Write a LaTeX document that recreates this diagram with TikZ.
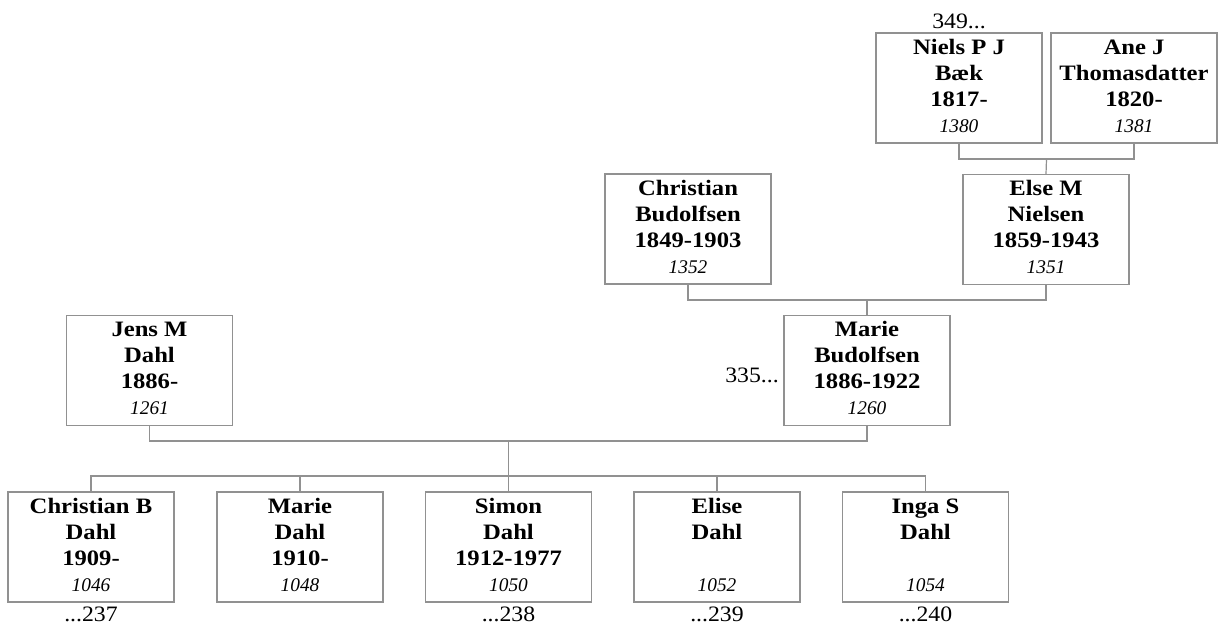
\documentclass[tikz,border=0pt]{standalone}
\usepackage{fontspec}
\setmainfont{Liberation Serif}
\newfontfamily\namefont[FakeStretch=1.12]{Liberation Serif}
\newfontfamily\labfont[FakeStretch=1.08]{Liberation Serif}
\definecolor{linegray}{RGB}{145,145,145}
\newcommand\pcontent[4]{\rule{0pt}{11.25pt}#1\\#2\\#3\\{\normalfont\itshape\fontsize{14.5}{19.5}\selectfont #4}\rule[-3.75pt]{0pt}{3.75pt}}
\begin{document}
\begin{tikzpicture}[x=0.75pt,y=-0.75pt,
  person/.style={draw=linegray, line width=0.9pt, rectangle, minimum width=124.5pt, minimum height=82.5pt, inner sep=0pt, align=center, font=\namefont\bfseries\fontsize{16.5}{19.5}\selectfont},
  conn/.style={draw=linegray, line width=0.9pt},
  lab/.style={font=\labfont\fontsize{16.5}{19.5}\selectfont, inner sep=0pt}]
\useasboundingbox (0,0) rectangle (1223,626);
% generation 1
\node[person] (niels) at (959,88) {\pcontent{Niels P J}{Bæk}{1817-}{1380}};
\node[person] (ane) at (1134,88) {\pcontent{Ane J}{Thomasdatter}{1820-}{1381}};
% generation 2
\node[person] (cbud) at (688,229) {\pcontent{Christian}{Budolfsen}{1849-1903}{1352}};
\node[person] (else) at (1046,229.5) {\pcontent{Else M}{Nielsen}{1859-1943}{1351}};
% generation 3
\node[person] (jens) at (149.5,370.5) {\pcontent{Jens M}{Dahl}{1886-}{1261}};
\node[person] (mbud) at (867,370.5) {\pcontent{Marie}{Budolfsen}{1886-1922}{1260}};
% children
\node[person] (k1) at (91,547) {\pcontent{Christian B}{Dahl}{1909-}{1046}};
\node[person] (k2) at (300,547) {\pcontent{Marie}{Dahl}{1910-}{1048}};
\node[person] (k3) at (508.5,547) {\pcontent{Simon}{Dahl}{1912-1977}{1050}};
\node[person] (k4) at (717,547) {\pcontent{Elise}{Dahl}{\mbox{}}{1052}};
\node[person] (k5) at (925.5,547) {\pcontent{Inga S}{Dahl}{\mbox{}}{1054}};
% labels
\node[lab, anchor=base] (l349) at (959,28) {349...};
\node[lab, anchor=base east] (l335) at (779,382) {335...};
\node[lab, anchor=base] (l237) at (91,621) {...237};
\node[lab, anchor=base] (l238) at (508.5,621) {...238};
\node[lab, anchor=base] (l239) at (717,621) {...239};
\node[lab, anchor=base] (l240) at (925.5,621) {...240};
% connectors
\coordinate (f1) at (1046.5,159);
\coordinate (f2) at (867,300);
\coordinate (f3) at (508.5,441);
\coordinate (f4) at (508.5,476);
\draw[conn] (niels.south) |- (f1) -| (ane.south);
\draw[conn] (f1) -- (else.north);
\draw[conn] (cbud.south) |- (f2) -| (else.south);
\draw[conn] (f2) -- (mbud.north);
\draw[conn] (jens.south) |- (f3) -| (mbud.south);
\draw[conn] (f3) -- (f4);
\draw[conn] (k1.north) |- (f4) -| (k5.north);
\draw[conn] (k2.north) -- (k2.north |- f4);
\draw[conn] (k3.north) -- (k3.north |- f4);
\draw[conn] (k4.north) -- (k4.north |- f4);
\end{tikzpicture}
\end{document}
